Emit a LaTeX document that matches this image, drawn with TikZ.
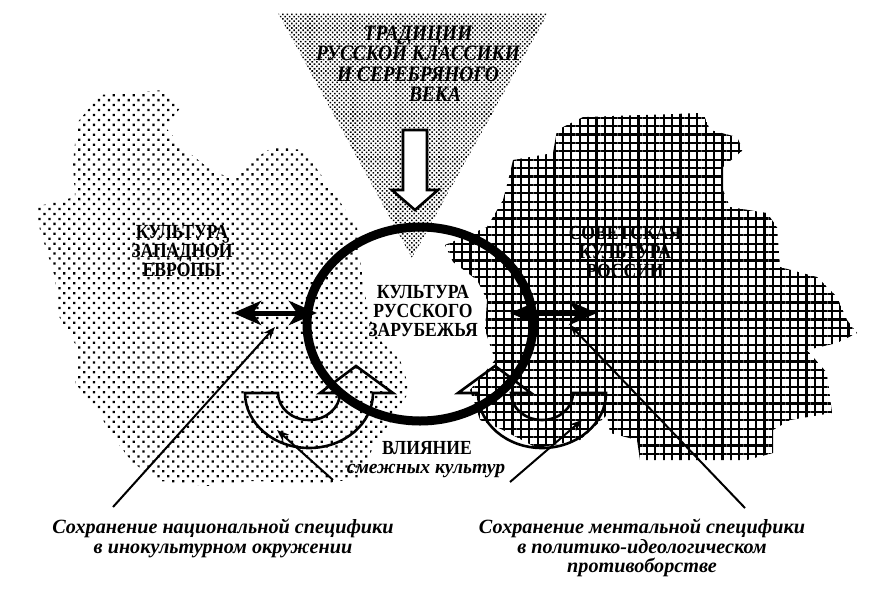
\documentclass[tikz,border=0pt]{standalone}
\usepackage{fontspec}
\setmainfont{Liberation Serif}
\newfontfamily\capsfont[FakeStretch=0.88]{Liberation Serif}
\usetikzlibrary{arrows.meta, patterns.meta, shapes.geometric}
\setlength{\lineskiplimit}{-20pt}

\begin{document}
\begin{tikzpicture}[x=0.5pt, y=-0.5pt, >=Stealth, semithick,
    caps/.style={font=\capsfont\bfseries\fontsize{10}{9.6}\selectfont, align=center, inner sep=0pt},
    capsit/.style={font=\capsfont\bfseries\itshape\fontsize{11}{10.25}\selectfont, align=center, inner sep=0pt},
    note/.style={font=\bfseries\itshape\fontsize{10.1}{9.9}\selectfont, align=center, inner sep=0pt},
    dvustr/.style={{Stealth[length=14pt, width=12pt, inset=4pt]}-{Stealth[length=14pt, width=12pt, inset=4pt]}, line width=2.5pt},
    ukaz/.style={-{Stealth[length=6pt, width=4.5pt]}, line width=1pt},
    kontur/.style={line width=1.3pt, line join=miter}
  ]
  \useasboundingbox (0,0) rectangle (870,605);

  % treugolnik traditsij
  \fill[pattern={Dots[distance=1.6pt, radius=0.55pt, angle=45]}]
    (278,13) -- (548,13) -- (412,258) -- cycle;

  % Zapadnaya Evropa
  \fill[pattern={Dots[distance=3.5pt, radius=0.8pt, angle=45]}]
    (100,95) -- (163,90) -- (180,108) -- (166,128) -- (182,147) -- (207,167)
    -- (233,180) -- (253,160) -- (273,147) -- (303,150) -- (330,187)
    -- (357,227) -- (360,260) -- (366,300) -- (375,335) -- (400,360)
    -- (410,390) -- (392,420) -- (374,445) -- (360,478) -- (320,484)
    -- (253,481) -- (207,486) -- (160,481) -- (133,463) -- (113,437)
    -- (97,410) -- (75,383) -- (77,347) -- (57,313) -- (55,277)
    -- (40,230) -- (35,207) -- (75,197) -- (73,163) -- (77,123) -- cycle;

  % Sovetskaya Rossiya
  \fill[pattern={Hatch[distance=4.2pt, angle=0, line width=1.1pt]}]
    (583,117) -- (703,113) -- (710,130) -- (737,137) -- (743,150)
    -- (723,167) -- (723,190) -- (730,207) -- (767,213) -- (777,227)
    -- (780,267) -- (817,277) -- (837,297) -- (847,320) -- (857,333)
    -- (837,343) -- (807,350) -- (827,373) -- (832,413) -- (790,420)
    -- (773,430) -- (773,453) -- (747,460) -- (640,460) -- (637,440)
    -- (610,433) -- (607,415) -- (580,440) -- (537,448) -- (503,430)
    -- (480,420) -- (470,390) -- (495,360) -- (485,330) -- (487,300)
    -- (477,280) -- (453,262) -- (445,245) -- (487,227) -- (503,200)
    -- (510,173) -- (513,160) -- (553,153) -- (557,130) -- cycle;

  % podkovy vliyaniya
  \draw[kontur] (245,393) -- (278,393) arc[start angle=180, end angle=0, x radius=31, y radius=27]
    -- (320,393) -- (356,366) -- (393,393) -- (373,393)
    arc[start angle=0, end angle=180, x radius=64, y radius=55] -- cycle;
  \draw[kontur] (606,393) -- (573,393) arc[start angle=0, end angle=180, x radius=31, y radius=27]
    -- (531,393) -- (495,366) -- (458,393) -- (478,393)
    arc[start angle=180, end angle=0, x radius=64, y radius=55] -- cycle;

  % strelka vniz
  \draw[kontur, fill=white] (403,130) -- (427,130) -- (427,190) -- (438,190)
    -- (415,210) -- (392,190) -- (403,190) -- cycle;

  % krug
  \node[ellipse, draw, line width=4.5pt, minimum width=113pt, minimum height=97pt, inner sep=0pt] (krug) at (420,324) {};

  \node[capsit] (tradicii) at (418,64) {ТРАДИЦИИ\\РУССКОЙ КЛАССИКИ\\И СЕРЕБРЯНОГО\\\hspace*{17pt}ВЕКА};
  \node[caps] (zapad) at (182,251) {КУЛЬТУРА\\ЗАПАДНОЙ\\ЕВРОПЫ};
  \node[caps] (sovet) at (625,252) {СОВЕТСКАЯ\\КУЛЬТУРА\\РОССИИ};
  \node[caps] (zarub) at (423,311) {КУЛЬТУРА\\РУССКОГО\\ЗАРУБЕЖЬЯ};
  \node[caps] (vliyanie) at (427,448) {ВЛИЯНИЕ};
  \node[note, font=\bfseries\itshape\fontsize{9.8}{9.8}\selectfont] (smezh) at (426,471) {смежных культур};
  \node[note] (noteL) at (223,538) {Сохранение национальной специфики\\в инокультурном окружении};
  \node[note] (noteR) at (642,548) {Сохранение ментальной специфики\\в политико-идеологическом\\противоборстве};

  % dvustoronnie strelki
  \coordinate (dL1) at (233,313);
  \coordinate (dL2) at (317,313);
  \coordinate (dR1) at (510,313);
  \coordinate (dR2) at (597,313);
  \draw[dvustr] (dL1) -- (dL2);
  \draw[dvustr] (dR1) -- (dR2);

  % ukazateli
  \coordinate (uL) at (113,507);
  \coordinate (uR) at (745,508);
  \coordinate (sL) at (333,480);
  \coordinate (sR) at (510,482);
  \coordinate (uL2) at (275,327);
  \coordinate (uR2) at (570,325);
  \coordinate (sL2) at (277,430);
  \coordinate (sR2) at (582,420);
  \draw[ukaz] (uL) -- (uL2);
  \draw[ukaz] (uR) -- (uR2);
  \draw[ukaz] (sL) -- (sL2);
  \draw[ukaz] (sR) -- (sR2);
\end{tikzpicture}
\end{document}
